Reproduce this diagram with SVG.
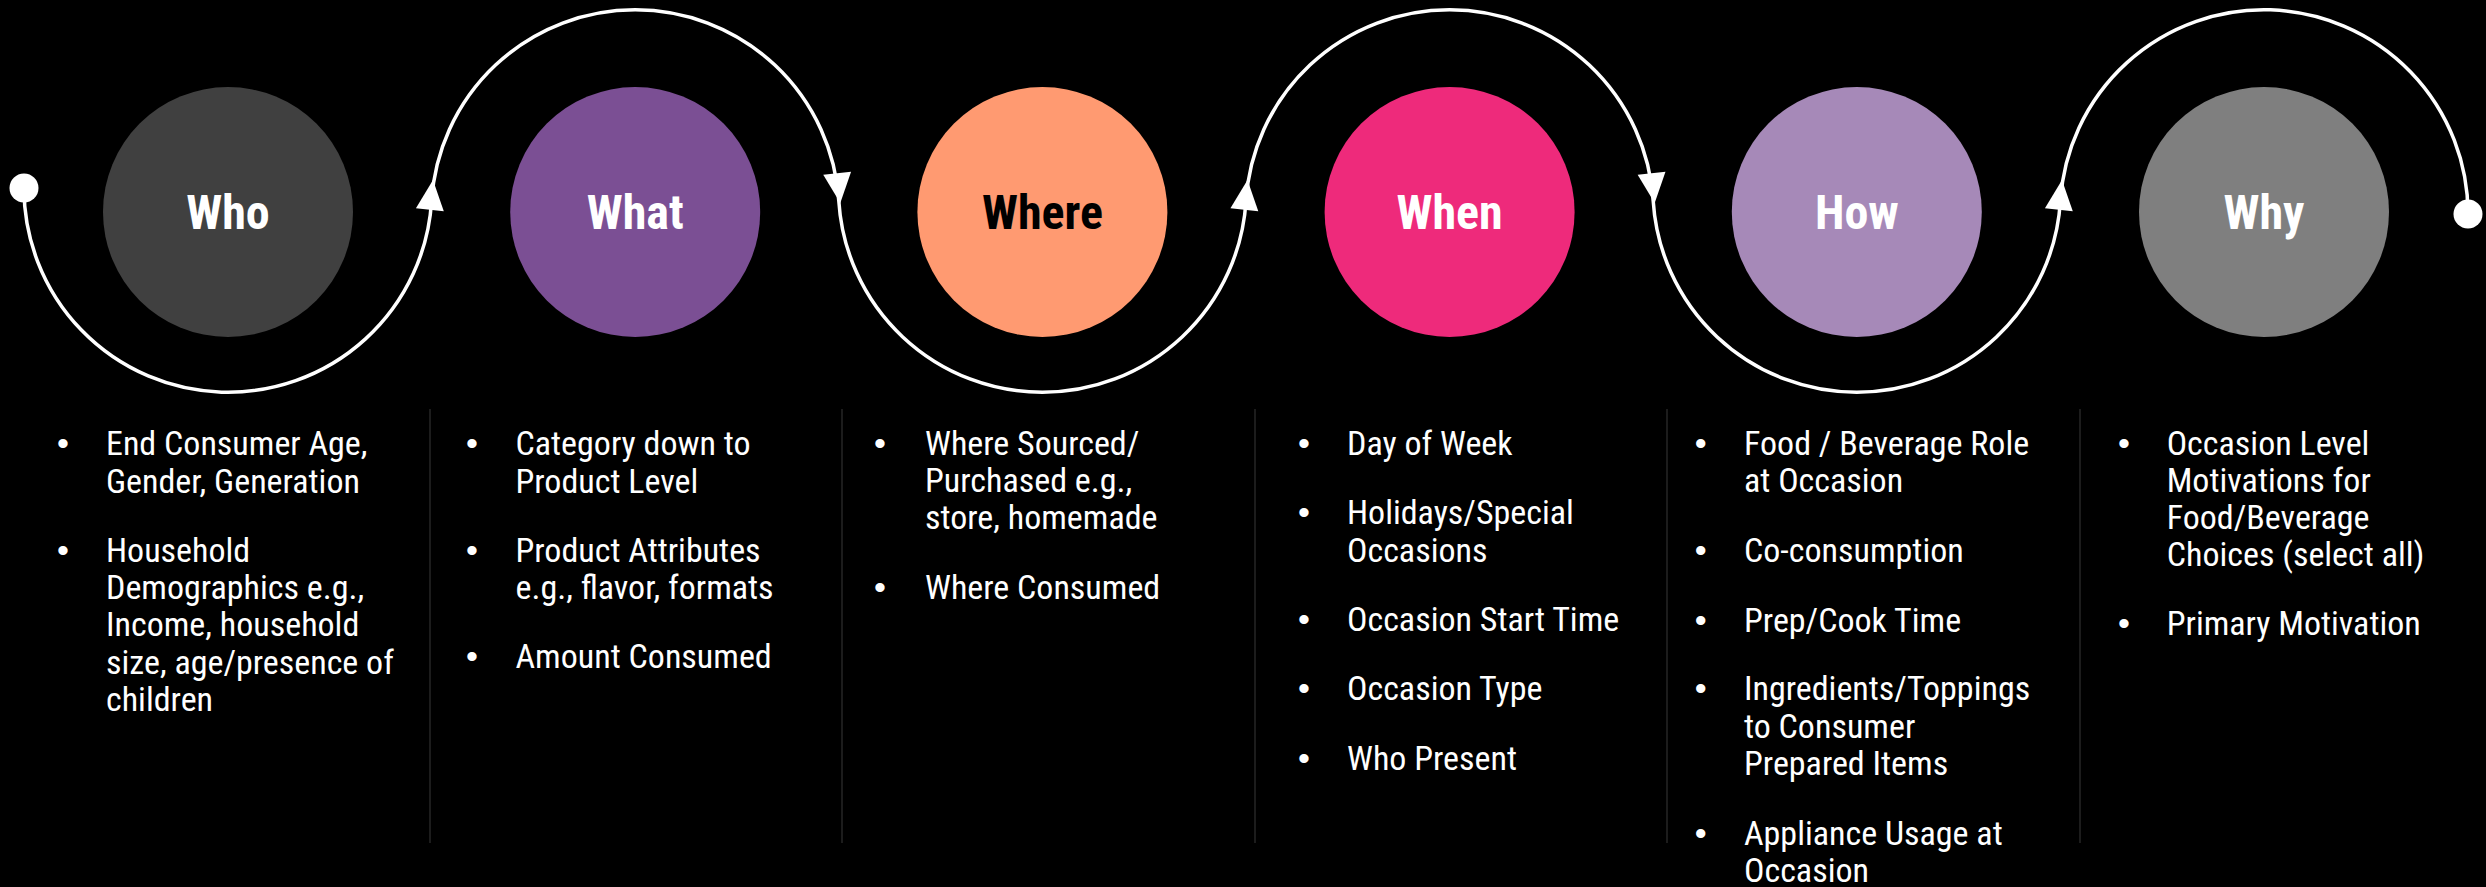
<svg xmlns="http://www.w3.org/2000/svg" width="2486" height="887" viewBox="0 0 2486 887">
  <defs>
    <style>
      .label{font-family:'Roboto Condensed','Liberation Sans Narrow',Roboto,sans-serif;font-stretch:condensed;font-weight:700;font-size:48px;text-anchor:middle;fill:#fff}
      .label.dark{fill:#000}
      .item{font-family:'Roboto Condensed','Liberation Sans Narrow',Roboto,sans-serif;font-stretch:condensed;font-size:34px;fill:#fff}
      .item .dot{font-family:'Liberation Sans',Arial,sans-serif;font-stretch:normal;font-size:34px;text-anchor:middle}
      .flow{fill:none;stroke:#fff;stroke-width:3.5}
      .end{fill:#fff}
      .sep{stroke:#303030;stroke-width:1.2}
    </style>
    <polygon id="arrow" points="0,0 -14,30 14,30" fill="#fff"/>
  </defs>

  <rect width="2486" height="887" fill="#000"/>

  <!-- S-shaped flow line weaving around the six circles -->
  <g id="connectors">
    <path class="flow" d="M 24 188 A 204 204 0 0 0 431.6 201 A 204 204 0 0 1 838.8 201 A 204 204 0 0 0 1246 201 A 204 204 0 0 1 1653.2 201 A 204 204 0 0 0 2060.4 201 A 204 204 0 0 1 2468 214"/>
    <circle class="end" cx="24" cy="188" r="14.5"/>
    <circle class="end" cx="2468" cy="214" r="14.5"/>
    <use href="#arrow" transform="translate(433 180) rotate(6)"/>
    <use href="#arrow" transform="translate(840.3 203) rotate(174)"/>
    <use href="#arrow" transform="translate(1247.5 180) rotate(6)"/>
    <use href="#arrow" transform="translate(1654.7 203) rotate(174)"/>
    <use href="#arrow" transform="translate(2062 180) rotate(6)"/>
  </g>

  <g id="node-who">
    <circle cx="228" cy="212" r="125" fill="#404040"/>
    <text class="label" x="228" y="229">Who</text>
  </g>
  <g id="node-what">
    <circle cx="635.2" cy="212" r="125" fill="#7B4F94"/>
    <text class="label" x="635.2" y="229">What</text>
  </g>
  <g id="node-where">
    <circle cx="1042.4" cy="212" r="125" fill="#FF9A71"/>
    <text class="label dark" x="1042.4" y="229">Where</text>
  </g>
  <g id="node-when">
    <circle cx="1449.6" cy="212" r="125" fill="#EE2A7B"/>
    <text class="label" x="1449.6" y="229">When</text>
  </g>
  <g id="node-how">
    <circle cx="1856.8" cy="212" r="125" fill="#A689B8"/>
    <text class="label" x="1856.8" y="229">How</text>
  </g>
  <g id="node-why">
    <circle cx="2264" cy="212" r="125" fill="#7F7F7F"/>
    <text class="label" x="2264" y="229">Why</text>
  </g>

  <!-- column dividers -->
  <g id="dividers">
    <line class="sep" x1="430" y1="409" x2="430" y2="843"/>
    <line class="sep" x1="842" y1="409" x2="842" y2="843"/>
    <line class="sep" x1="1255" y1="409" x2="1255" y2="843"/>
    <line class="sep" x1="1667" y1="409" x2="1667" y2="843"/>
    <line class="sep" x1="2080" y1="409" x2="2080" y2="843"/>
  </g>

  <g id="details-who" class="item">
    <text class="dot" x="63" y="455">•</text>
    <text x="106" y="455">End Consumer Age,</text>
    <text x="106" y="492.5">Gender, Generation</text>
    <text class="dot" x="63" y="561.5">•</text>
    <text x="106" y="561.5">Household</text>
    <text x="106" y="599">Demographics e.g.,</text>
    <text x="106" y="636">Income, household</text>
    <text x="106" y="673.5">size, age/presence of</text>
    <text x="106" y="711">children</text>
  </g>

  <g id="details-what" class="item">
    <text class="dot" x="472" y="455">•</text>
    <text x="515.5" y="455">Category down to</text>
    <text x="515.5" y="492.5">Product Level</text>
    <text class="dot" x="472" y="561.5">•</text>
    <text x="515.5" y="561.5">Product Attributes</text>
    <text x="515.5" y="599">e.g., flavor, formats</text>
    <text class="dot" x="472" y="668">•</text>
    <text x="515.5" y="668">Amount Consumed</text>
  </g>

  <g id="details-where" class="item">
    <text class="dot" x="880" y="455">•</text>
    <text x="925" y="455">Where Sourced/</text>
    <text x="925" y="492">Purchased e.g.,</text>
    <text x="925" y="529">store, homemade</text>
    <text class="dot" x="880" y="599">•</text>
    <text x="925" y="599">Where Consumed</text>
  </g>

  <g id="details-when" class="item">
    <text class="dot" x="1304" y="455">•</text>
    <text x="1347" y="455">Day of Week</text>
    <text class="dot" x="1304" y="524">•</text>
    <text x="1347" y="524">Holidays/Special</text>
    <text x="1347" y="561.5">Occasions</text>
    <text class="dot" x="1304" y="631">•</text>
    <text x="1347" y="631">Occasion Start Time</text>
    <text class="dot" x="1304" y="700">•</text>
    <text x="1347" y="700">Occasion Type</text>
    <text class="dot" x="1304" y="770">•</text>
    <text x="1347" y="770">Who Present</text>
  </g>

  <g id="details-how" class="item">
    <text class="dot" x="1700.6" y="455">•</text>
    <text x="1744" y="455">Food / Beverage Role</text>
    <text x="1744" y="492">at Occasion</text>
    <text class="dot" x="1700.6" y="562">•</text>
    <text x="1744" y="562">Co-consumption</text>
    <text class="dot" x="1700.6" y="631.5">•</text>
    <text x="1744" y="631.5">Prep/Cook Time</text>
    <text class="dot" x="1700.6" y="700">•</text>
    <text x="1744" y="700">Ingredients/Toppings</text>
    <text x="1744" y="737.5">to Consumer</text>
    <text x="1744" y="775">Prepared Items</text>
    <text class="dot" x="1700.6" y="845">•</text>
    <text x="1744" y="845">Appliance Usage at</text>
    <text x="1744" y="882">Occasion</text>
  </g>

  <g id="details-why" class="item">
    <text class="dot" x="2124" y="455">•</text>
    <text x="2166.7" y="455">Occasion Level</text>
    <text x="2166.7" y="492">Motivations for</text>
    <text x="2166.7" y="529">Food/Beverage</text>
    <text x="2166.7" y="566">Choices (select all)</text>
    <text class="dot" x="2124" y="635">•</text>
    <text x="2166.7" y="635">Primary Motivation</text>
  </g>
</svg>
